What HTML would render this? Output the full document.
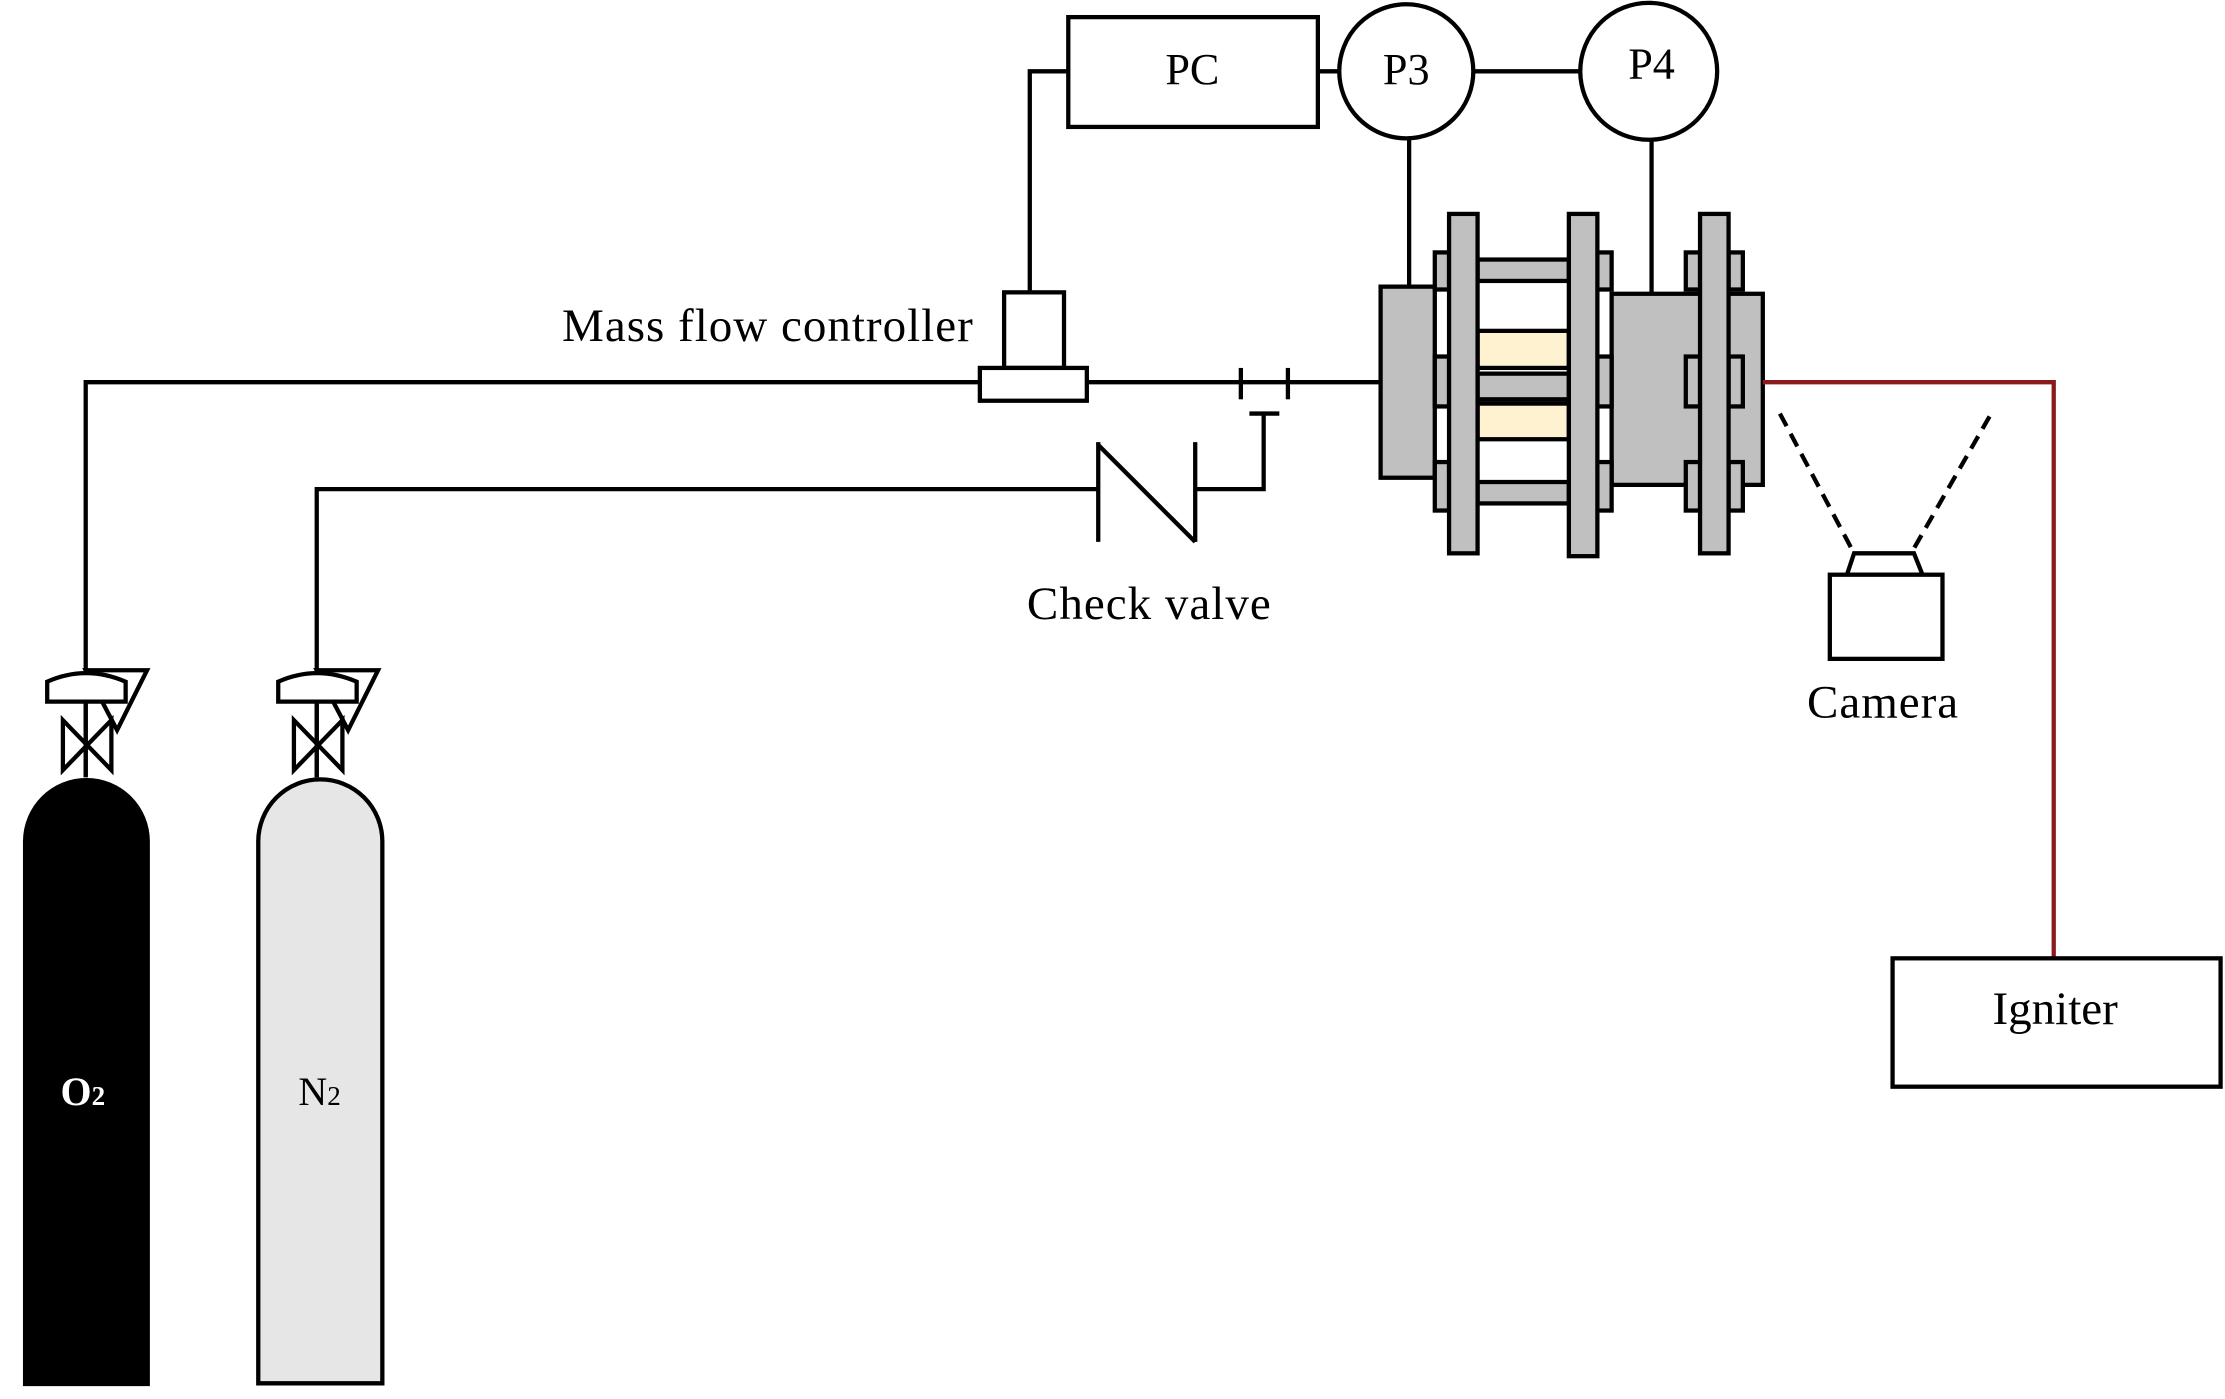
<!DOCTYPE html>
<html><head><style>html,body{margin:0;padding:0;background:#fff}svg{display:block}</style></head><body>
<svg width="2225" height="1399" viewBox="0 0 1560 981" xmlns="http://www.w3.org/2000/svg" font-family="Liberation Serif, serif">
<g fill="none" stroke="#000" stroke-width="3">
<polyline points="60,545 60,268 687,268"/>
<line x1="762" y1="268" x2="968" y2="268"/>
<polyline points="222,545 222,343 770,343"/>
<polyline points="838,343 886,343 886,290"/>
<line x1="876" y1="290" x2="897" y2="290"/>
<line x1="870" y1="258" x2="870" y2="280"/>
<line x1="903" y1="258" x2="903" y2="280"/>
<line x1="770" y1="310" x2="770" y2="380"/>
<line x1="770" y1="312" x2="838" y2="380"/>
<line x1="838" y1="310" x2="838" y2="380"/>
<polyline points="749,50 722,50 722,205"/>
<line x1="924" y1="50" x2="939" y2="50"/>
<line x1="1034" y1="50" x2="1108" y2="50"/>
<line x1="988" y1="97" x2="988" y2="201"/>
<line x1="1158" y1="98" x2="1158" y2="205"/>
</g>
<g stroke="#000" stroke-width="3" fill="#fff">
<rect x="749" y="12" width="175" height="77"/>
<circle cx="986" cy="50" r="47"/>
<circle cx="1156" cy="50" r="48"/>
<rect x="704" y="205" width="42" height="53"/>
<rect x="687" y="258" width="75" height="23"/>
</g>
<g stroke="#000" stroke-width="3" fill="#c0c0c0">
<rect x="968" y="201" width="38" height="134"/>
<rect x="1130" y="206" width="106" height="134"/>
<rect x="1036" y="182" width="64" height="15"/>
<rect x="1036" y="338" width="64" height="15"/>
<rect x="1036" y="262" width="64" height="18"/>
<rect x="1036" y="232" width="64" height="26" fill="#fff2d0"/>
<rect x="1036" y="283" width="64" height="25" fill="#fff2d0"/>
<rect x="1006" y="177" width="10" height="26"/><rect x="1006" y="250" width="10" height="35"/><rect x="1006" y="324" width="10" height="34"/>
<rect x="1120" y="177" width="10" height="26"/><rect x="1120" y="250" width="10" height="35"/><rect x="1120" y="324" width="10" height="34"/>
<rect x="1182" y="177" width="10" height="26"/><rect x="1182" y="250" width="10" height="35"/><rect x="1182" y="324" width="10" height="34"/>
<rect x="1212" y="177" width="10" height="26"/><rect x="1212" y="250" width="10" height="35"/><rect x="1212" y="324" width="10" height="34"/>
<rect x="1016" y="150" width="20" height="238"/>
<rect x="1100" y="150" width="20" height="240"/>
<rect x="1192" y="150" width="20" height="238"/>
</g>
<polyline points="1236,268 1440,268 1440,672" fill="none" stroke="#8b1a1a" stroke-width="3"/>
<rect x="1327" y="672" width="230" height="90" fill="#fff" stroke="#000" stroke-width="3"/>
<g stroke="#000" stroke-width="3" fill="#fff">
<line x1="1248" y1="290" x2="1300" y2="388" stroke-dasharray="10,6"/>
<line x1="1395" y1="292" x2="1340" y2="388" stroke-dasharray="10,6"/>
<polygon points="1300,388 1342,388 1348,403 1295,403"/>
<rect x="1283" y="403" width="79" height="59"/>
</g>
<g stroke="#000" stroke-width="3" fill="#fff">
<polygon points="60,470 103,470 82,512" fill="none"/>
<path d="M33,478 Q60,466 88,478 L88,492 L33,492 Z"/>
<polygon points="44,505 78,540 78,505 44,540"/>
<line x1="60" y1="492" x2="60" y2="545"/>
<polygon points="222,470 265,470 244,512" fill="none"/>
<path d="M195,478 Q222,466 250,478 L250,492 L195,492 Z"/>
<polygon points="206,505 240,540 240,505 206,540"/>
<line x1="222" y1="492" x2="222" y2="545"/>
</g>
<path d="M16,972 L16,590 A44.5,44.5 0 0 1 105,590 L105,972 Z" fill="#000"/>
<path d="M181,970 L181,590 A43.5,43.5 0 0 1 268,590 L268,970 Z" fill="#e6e6e6" stroke="#000" stroke-width="3"/>
<g font-size="33" fill="#000">
<text x="836" y="59" text-anchor="middle" font-size="31">PC</text>
<text x="986" y="59" text-anchor="middle" font-size="31">P3</text>
<text x="1158" y="55" text-anchor="middle" font-size="31">P4</text>
<text x="394" y="239" textLength="288">Mass flow controller</text>
<text x="720" y="434" textLength="171">Check valve</text>
<text x="1267" y="503" textLength="106">Camera</text>
<text x="1441" y="718" text-anchor="middle">Igniter</text>
<text x="224" y="775" text-anchor="middle" font-size="28">N<tspan font-size="19">2</tspan></text>
<text x="58" y="775" text-anchor="middle" font-size="28" fill="#fff" font-weight="bold">O<tspan font-size="19">2</tspan></text>
</g>
</svg>
</body></html>
